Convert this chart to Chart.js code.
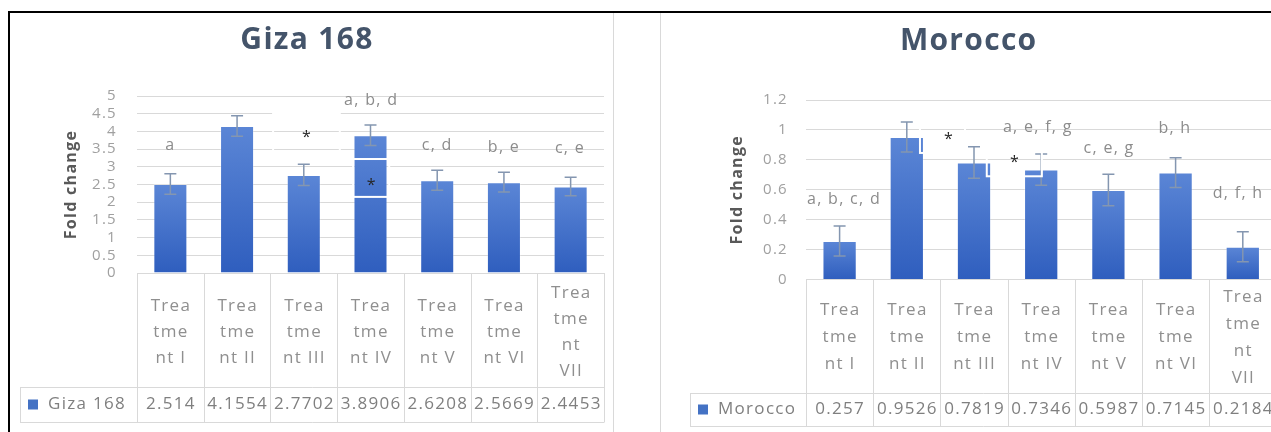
<!DOCTYPE html>
<html lang="en">
<head>
<meta charset="utf-8">
<title>Fold change by treatment</title>
<script src="https://cdn.jsdelivr.net/npm/chart.js@4.4.1/dist/chart.umd.min.js"></script>
<style>
  html, body { margin: 0; padding: 0; background: #fff; }
  body { position: relative; width: 1271px; height: 432px; overflow: hidden; }
  .rule { position: absolute; background: #000; }
  .panel { position: absolute; top: 13px; height: 419px; }
  #gizaPanel { left: 10px; width: 603px; border-right: 1px solid #D9D9D9; }
  #moroccoPanel { left: 660px; width: 621px; border-left: 1px solid #D9D9D9; }
  canvas { display: block; }
</style>
</head>
<body>
<div class="rule" style="left:8px;top:11px;width:1263px;height:2px"></div>
<div class="rule" style="left:8px;top:11px;width:2px;height:421px"></div>
<div class="panel" id="gizaPanel"><canvas id="gizaChart" width="603" height="419"></canvas></div>
<div class="panel" id="moroccoPanel"><canvas id="moroccoChart" width="620" height="419"></canvas></div>
<script>
// ---- data ----
const categories = [
  ['Trea', 'tme', 'nt I'],
  ['Trea', 'tme', 'nt II'],
  ['Trea', 'tme', 'nt III'],
  ['Trea', 'tme', 'nt IV'],
  ['Trea', 'tme', 'nt V'],
  ['Trea', 'tme', 'nt VI'],
  ['Trea', 'tme', 'nt', 'VII']
];

const gizaName = 'Giza 168';
const gizaValues = [2.514, 4.1554, 2.7702, 3.8906, 2.6208, 2.5669, 2.4453];
const gizaErrors = [0.29, 0.29, 0.30, 0.29, 0.28, 0.28, 0.26];
const gizaNotes = ['a', '*', 'a, b, d', '*', 'c, d', 'b, e', 'c, e'];
const gizaTicks = { min: 0, max: 5, step: 0.5 };

const moroccoName = 'Morocco';
const moroccoValues = [0.257, 0.9526, 0.7819, 0.7346, 0.5987, 0.7145, 0.2184];
const moroccoErrors = [0.10, 0.10, 0.105, 0.105, 0.105, 0.10, 0.10];
const moroccoNotes = ['a, b, c, d', '*', 'a, e, f, g', '*', 'c, e, g', 'b, h', 'd, f, h'];
const moroccoTicks = { min: 0, max: 1.2, step: 0.2 };

// ---- styling ----
const FONT = '"Open Sans", "Liberation Sans", sans-serif';
const GRID = '#D9D9D9';

// per-bar vertical gradient, lighter at the top of each bar
function barFill(c) {
  const chart = c.chart;
  if (!chart.chartArea || c.type !== 'data') return '#4472C4';
  const y = chart.scales.y;
  const top = y.getPixelForValue(c.raw);
  const base = y.getPixelForValue(0);
  const g = chart.ctx.createLinearGradient(0, top, 0, base);
  g.addColorStop(0, '#5B86D6');
  g.addColorStop(1, '#2F5EBE');
  return g;
}

// wider letter spacing for every text drawn on the canvas
const spacingPlugin = {
  id: 'letterSpacing',
  beforeDraw(chart) { chart.ctx.letterSpacing = '1.3px'; }
};

// error bars, label boxes and significance letters
const markupPlugin = {
  id: 'markup',
  afterDatasetsDraw(chart, args, opts) {
    const { ctx, scales: { x, y } } = chart;
    const ds = chart.data.datasets[0];
    const meta = chart.getDatasetMeta(0);
    ctx.save();
    ctx.letterSpacing = '1.3px';

    // error bars
    ctx.strokeStyle = '#8496B0';
    ctx.lineWidth = 1.5;
    meta.data.forEach((bar, i) => {
      const v = ds.data[i], e = ds.errors[i];
      const cx = bar.x;
      const yt = y.getPixelForValue(v + e);
      const yb = y.getPixelForValue(v - e);
      ctx.beginPath();
      ctx.moveTo(cx, yt); ctx.lineTo(cx, yb);
      ctx.moveTo(cx - 6, yt); ctx.lineTo(cx + 6, yt);
      ctx.moveTo(cx - 6, yb); ctx.lineTo(cx + 6, yb);
      ctx.stroke();
    });

    // white outlined label boxes
    ctx.strokeStyle = '#FFFFFF';
    ctx.lineWidth = 2;
    (opts.boxes || []).forEach(b => {
      const x0 = x.getPixelForValue(b.x0), x1 = x.getPixelForValue(b.x1);
      const y0 = y.getPixelForValue(b.y0), y1 = y.getPixelForValue(b.y1);
      ctx.strokeRect(x0, y0, x1 - x0, y1 - y0);
    });

    // letters
    ctx.textAlign = 'center';
    ctx.textBaseline = 'alphabetic';
    opts.notes.forEach((t, i) => {
      const p = opts.place[i];
      const star = t === '*';
      ctx.font = '16px ' + FONT;
      ctx.fillStyle = star ? '#262626' : '#8C8C8C';
      ctx.fillText(t, x.getPixelForValue(p.x), y.getPixelForValue(p.y));
    });
    ctx.restore();
  }
};

// data table under the plot: category row, then the series row
const tablePlugin = {
  id: 'dataTable',
  afterDraw(chart, args, opts) {
    const { ctx, chartArea, scales: { x } } = chart;
    const labels = chart.data.labels;
    const ds = chart.data.datasets[0];
    const n = labels.length;
    const y0 = chartArea.bottom;
    const y1 = y0 + opts.catRow;
    const y2 = y1 + opts.valRow;
    const xl = chartArea.left - opts.legendCol;
    const edge = i => Math.round(x.getPixelForValue(i - 0.5)) + 0.5;
    const xr = edge(n);

    ctx.save();
    ctx.letterSpacing = '1.3px';
    ctx.strokeStyle = GRID;
    ctx.lineWidth = 1;
    ctx.beginPath();
    for (let i = 0; i <= n; i++) {
      const px = edge(i);
      ctx.moveTo(px, y0); ctx.lineTo(px, y2);
    }
    ctx.moveTo(xl + 0.5, y1); ctx.lineTo(xl + 0.5, y2);
    ctx.moveTo(xl, Math.round(y1) + 0.5); ctx.lineTo(xr, Math.round(y1) + 0.5);
    ctx.moveTo(xl, Math.round(y2) + 0.5); ctx.lineTo(xr, Math.round(y2) + 0.5);
    ctx.stroke();

    // category labels, vertically centred in their cells
    ctx.textAlign = 'center';
    ctx.textBaseline = 'middle';
    ctx.font = '17px ' + FONT;
    ctx.fillStyle = '#8F8F8F';
    const mid = (y0 + y1) / 2 + opts.shift;
    labels.forEach((lines, i) => {
      const cx = x.getPixelForValue(i);
      const h = opts.lineHeight;
      const start = mid - (lines.length - 1) * h / 2;
      lines.forEach((ln, k) => ctx.fillText(ln, cx + 0.6, start + k * h));
    });

    // series row
    const vm = (y1 + y2) / 2;
    ctx.fillStyle = '#7F7F7F';
    ds.data.forEach((v, i) => ctx.fillText(String(v), x.getPixelForValue(i) + 0.6, vm));
    ctx.fillStyle = '#4472C4';
    ctx.fillRect(xl + opts.keyX, vm - 5, 10, 10);
    ctx.fillStyle = '#7F7F7F';
    ctx.textAlign = 'left';
    ctx.fillText(ds.label, xl + opts.keyX + 20, vm);
    ctx.restore();
  }
};

function makeChart(id, cfg) {
  return new Chart(document.getElementById(id), {
    type: 'bar',
    data: {
      labels: categories,
      datasets: [{
        label: cfg.name,
        data: cfg.values,
        errors: cfg.errors,
        backgroundColor: barFill,
        borderColor: 'rgba(255,255,255,0.25)',
        borderWidth: 1,
        barPercentage: 0.51,
        categoryPercentage: 1
      }]
    },
    options: {
      responsive: false,
      animation: false,
      devicePixelRatio: 1,
      layout: { padding: { left: 0, right: cfg.padRight, top: 0, bottom: cfg.padBottom } },
      scales: {
        x: { display: false },
        y: {
          min: cfg.ticks.min,
          max: cfg.ticks.max,
          afterFit(scale) { scale.width = cfg.axisWidth; },
          ticks: {
            stepSize: cfg.ticks.step,
            autoSkip: false,
            padding: cfg.tickPad,
            color: '#A0A0A0',
            font: { family: FONT, size: 15 },
            callback: v => String(Math.round(v * 10) / 10)
          },
          grid: { color: GRID, lineWidth: 1, drawTicks: false },
          border: { display: false },
          title: {
            display: true,
            text: 'Fold change',
            color: '#595959',
            font: { family: FONT, size: 16, weight: 'bold' },
            padding: { top: cfg.titlePad, bottom: 0 }
          }
        }
      },
      plugins: {
        legend: { display: false },
        tooltip: { enabled: false },
        title: {
          display: true,
          text: cfg.name,
          color: '#44546A',
          font: { family: FONT, size: 30, weight: 'bold' },
          padding: cfg.headPad
        },
        markup: { notes: cfg.notes, place: cfg.place, boxes: cfg.boxes },
        dataTable: cfg.table
      }
    },
    plugins: [spacingPlugin, markupPlugin, tablePlugin]
  });
}

makeChart('gizaChart', {
  name: gizaName,
  values: gizaValues,
  errors: gizaErrors,
  notes: gizaNotes,
  ticks: gizaTicks,
  axisWidth: 127,
  tickPad: 20,
  titlePad: 52,
  padRight: 9,
  padBottom: 159,
  headPad: { top: 9, bottom: 38 },
  place: [
    { x: 0.0, y: 3.47 }, { x: 2.05, y: 3.70 }, { x: 3.01, y: 4.75 }, { x: 3.02, y: 2.34 },
    { x: 4.0, y: 3.47 }, { x: 5.0, y: 3.42 }, { x: 5.99, y: 3.39 }
  ],
  boxes: [
    { x0: 1.54, x1: 2.54, y0: 4.5, y1: 3.33 },
    { x0: 2.74, x1: 3.28, y0: 3.22, y1: 2.15 }
  ],
  table: { catRow: 114, valRow: 35, legendCol: 117, lineHeight: 26, keyX: 8, shift: 2 }
});

makeChart('moroccoChart', {
  name: moroccoName,
  values: moroccoValues,
  errors: moroccoErrors,
  notes: moroccoNotes,
  ticks: moroccoTicks,
  axisWidth: 145,
  tickPad: 18,
  titlePad: 67,
  padRight: 4.6,
  padBottom: 152.5,
  headPad: { top: 10, bottom: 41 },
  place: [
    { x: 0.065, y: 0.505 }, { x: 1.63, y: 0.906 }, { x: 2.95, y: 0.986 }, { x: 2.61, y: 0.752 },
    { x: 4.01, y: 0.846 }, { x: 4.99, y: 0.98 }, { x: 5.93, y: 0.545 }
  ],
  boxes: [
    { x0: 1.196, x1: 1.866, y0: 1.08, y1: 0.846 },
    { x0: 2.19, x1: 3.01, y0: 0.90, y1: 0.69 }
  ],
  table: { catRow: 113.5, valRow: 33, legendCol: 116, lineHeight: 27, keyX: 8, shift: 1 }
});
</script>
</body>
</html>
